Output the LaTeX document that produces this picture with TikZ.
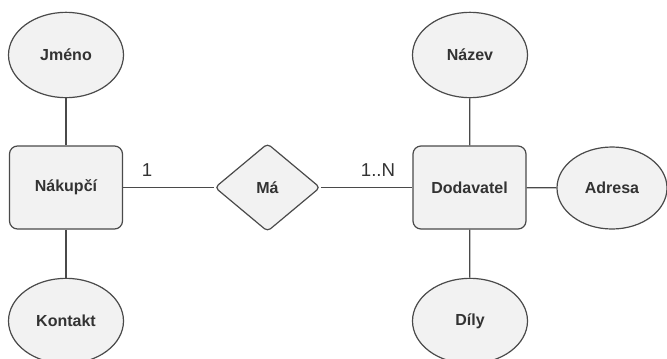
\documentclass[tikz,border=0pt]{standalone}
\usepackage{fontspec}
\setmainfont{Liberation Sans}
\usetikzlibrary{shapes.geometric}
\definecolor{fillg}{HTML}{F2F2F2}
\definecolor{lineg}{HTML}{4A4A4A}
\definecolor{textg}{HTML}{333333}
\tikzset{
  ent/.style={draw=lineg, fill=fillg, line width=0.9pt, rounded corners=6pt, minimum width=84.75pt, minimum height=62.25pt, inner sep=0pt, text=textg, font=\fontsize{12}{14}\selectfont\bfseries},
  attr/.style={draw=lineg, fill=fillg, line width=0.9pt, ellipse, minimum width=86.25pt, minimum height=64pt, inner sep=0pt, text=textg, font=\fontsize{12}{14}\selectfont\bfseries},
  rel/.style={draw=lineg, fill=fillg, line width=0.9pt, diamond, minimum width=79pt, minimum height=66pt, inner sep=0pt, rounded corners=3pt, text=textg, font=\fontsize{12}{14}\selectfont\bfseries},
  conn/.style={draw=lineg, line width=0.9pt},
  card/.style={text=textg, font=\fontsize{14}{16}\selectfont, inner sep=0pt}
}
\begin{document}
\begin{tikzpicture}[x=0.75pt,y=-0.75pt]
\useasboundingbox (0,0) rectangle (667,358);
\node[attr] (jmeno) at (66,55) {Jméno};
\node[ent] (nakupci) at (66,187.5) {Nákupčí};
\node[attr] (kontakt) at (66,321) {Kontakt};
\node[rel] (ma) at (267.5,187.5) {Má};
\node[ent] (dodavatel) at (469.5,187.5) {Dodavatel};
\node[attr] (nazev) at (470,55) {Název};
\node[attr, minimum width=82.5pt, minimum height=61.5pt] (adresa) at (612,188) {Adresa};
\node[attr] (dily) at (470,321) {Díly};
\draw[conn] (jmeno) -- (nakupci);
\draw[conn] (nakupci) -- (kontakt);
\draw[conn] (nakupci) -- (ma);
\draw[conn] (ma) -- (dodavatel);
\draw[conn] (nazev) -- (dodavatel);
\draw[conn] (dodavatel) -- (dily);
\draw[conn] (dodavatel) -- (adresa);
\node[card] (c1) at (147,170) {1};
\node[card] (cn) at (378,170) {1..N};
\end{tikzpicture}
\end{document}
